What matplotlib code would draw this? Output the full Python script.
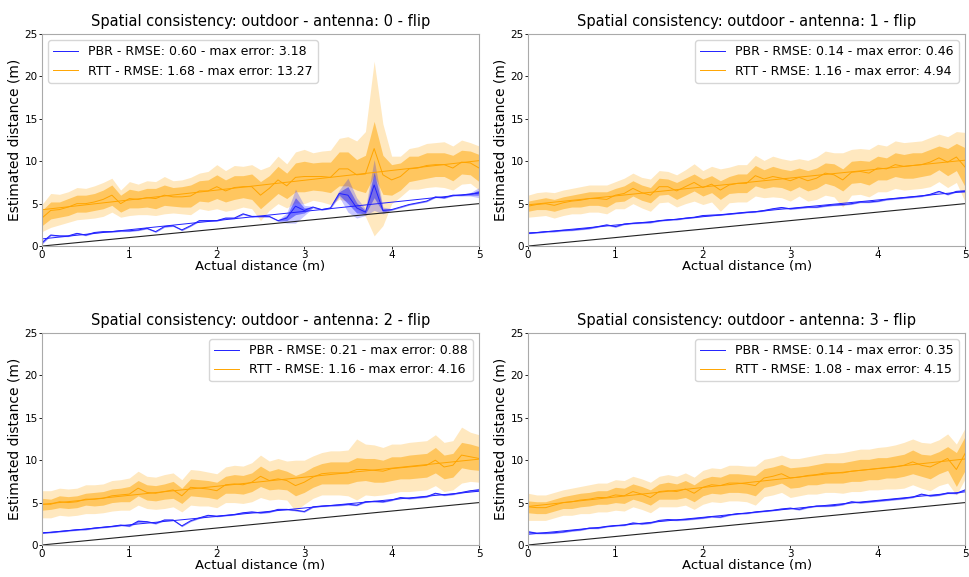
import numpy as np
import matplotlib
matplotlib.use("Agg")
import matplotlib.pyplot as plt

# Actual distance grid (m)
dist = np.round(np.arange(0, 5.01, 0.1), 1)

antennas = [0, 1, 2, 3]

# PBR estimates per antenna: mean and spread
pbr_mean_0 = [0.4, 1.3, 1.2, 1.2, 1.5, 1.3, 1.6, 1.7, 1.7, 1.8, 1.8, 1.9, 2.1, 1.7, 2.3, 2.4, 1.9, 2.4, 3.0, 3.0,
              3.0, 3.3, 3.3, 3.8, 3.5, 3.5, 3.5, 3.0, 3.3, 4.7, 4.2, 4.6, 4.3, 4.5, 6.2, 6.0, 4.5, 4.0, 7.2, 4.2,
              4.3, 4.6, 4.9, 5.1, 5.3, 5.8, 5.7, 6.0, 6.0, 6.1, 6.3]
pbr_sd_0 = [0.1, 0.05, 0.05, 0.05, 0.05, 0.05, 0.05, 0.05, 0.05, 0.05, 0.05, 0.05, 0.05, 0.05, 0.05, 0.05, 0.05,
            0.05, 0.05, 0.05, 0.05, 0.05, 0.05, 0.05, 0.05, 0.05, 0.05, 0.05, 0.3, 1.0, 0.3, 0.05, 0.05, 0.05, 0.2,
            1.0, 0.6, 0.2, 1.5, 0.2, 0.05, 0.05, 0.05, 0.05, 0.05, 0.05, 0.05, 0.05, 0.05, 0.1, 0.3]
pbr_mean_1 = [1.55, 1.6, 1.7, 1.75, 1.85, 1.9, 2.0, 2.1, 2.3, 2.5, 2.3, 2.6, 2.7, 2.75, 2.8, 3.0, 3.1, 3.15, 3.3,
              3.4, 3.6, 3.65, 3.7, 3.8, 3.9, 4.0, 4.05, 4.2, 4.4, 4.55, 4.4, 4.5, 4.6, 4.6, 4.75, 4.85, 4.9, 5.0,
              5.2, 5.2, 5.3, 5.5, 5.6, 5.7, 5.8, 5.9, 6.1, 6.45, 6.1, 6.45, 6.5]
pbr_sd_1 = [0.05, 0.05, 0.05, 0.05, 0.05, 0.05, 0.05, 0.05, 0.05, 0.05, 0.05, 0.05, 0.05, 0.05, 0.05, 0.05, 0.05,
            0.05, 0.05, 0.05, 0.05, 0.05, 0.05, 0.05, 0.05, 0.05, 0.05, 0.05, 0.05, 0.05, 0.05, 0.05, 0.05, 0.05,
            0.05, 0.05, 0.05, 0.05, 0.05, 0.05, 0.05, 0.05, 0.05, 0.05, 0.05, 0.05, 0.05, 0.05, 0.05, 0.05, 0.1]
pbr_mean_2 = [1.45, 1.5, 1.6, 1.7, 1.8, 1.85, 2.0, 2.1, 2.2, 2.35, 2.25, 2.8, 2.75, 2.55, 2.95, 2.95, 2.25, 2.85,
              3.2, 3.5, 3.4, 3.5, 3.6, 3.8, 3.9, 3.8, 3.9, 4.2, 4.2, 4.1, 3.95, 4.5, 4.6, 4.65, 4.7, 4.8, 4.7, 5.1,
              5.15, 5.1, 5.3, 5.6, 5.5, 5.6, 5.7, 6.1, 5.9, 6.0, 6.2, 6.4, 6.5]
pbr_sd_2 = [0.05, 0.05, 0.05, 0.05, 0.05, 0.05, 0.05, 0.05, 0.05, 0.05, 0.05, 0.1, 0.05, 0.05, 0.05, 0.05, 0.05,
            0.05, 0.05, 0.05, 0.05, 0.05, 0.05, 0.05, 0.05, 0.05, 0.05, 0.05, 0.05, 0.05, 0.05, 0.05, 0.05, 0.05,
            0.05, 0.05, 0.05, 0.05, 0.05, 0.05, 0.05, 0.05, 0.05, 0.05, 0.05, 0.05, 0.05, 0.05, 0.05, 0.05, 0.1]
pbr_mean_3 = [1.55, 1.4, 1.4, 1.45, 1.55, 1.7, 1.8, 2.0, 2.0, 2.2, 2.3, 2.35, 2.6, 2.5, 2.6, 2.9, 3.0, 2.95, 3.0,
              3.1, 3.2, 3.35, 3.3, 3.55, 3.7, 3.75, 3.9, 4.0, 4.1, 4.25, 4.35, 4.2, 4.45, 4.6, 4.6, 4.65, 4.8, 5.1,
              5.0, 5.1, 5.2, 5.3, 5.4, 5.5, 5.65, 6.0, 5.8, 5.9, 6.15, 6.1, 6.5]
pbr_sd_3 = [0.1, 0.05, 0.05, 0.05, 0.05, 0.05, 0.05, 0.05, 0.05, 0.05, 0.05, 0.05, 0.05, 0.05, 0.05, 0.05, 0.05,
            0.05, 0.05, 0.05, 0.05, 0.05, 0.05, 0.05, 0.05, 0.05, 0.05, 0.05, 0.05, 0.05, 0.05, 0.05, 0.05, 0.05,
            0.05, 0.05, 0.05, 0.05, 0.05, 0.05, 0.05, 0.05, 0.05, 0.05, 0.05, 0.05, 0.05, 0.05, 0.05, 0.05, 0.05]

# RTT estimates per antenna: mean, standard deviation and full spread
rtt_mean_0 = [3.3, 4.2, 4.3, 4.6, 5.0, 5.0, 5.2, 5.5, 6.0, 5.0, 5.6, 5.5, 5.7, 5.6, 6.0, 5.8, 5.8, 5.9, 6.5, 6.5,
              7.0, 6.5, 6.9, 7.0, 7.0, 6.0, 6.8, 7.8, 7.1, 8.1, 8.2, 8.2, 8.2, 8.1, 9.1, 9.1, 8.4, 8.5, 11.5, 8.4,
              7.8, 8.2, 9.1, 9.2, 9.5, 9.6, 9.6, 9.2, 9.9, 9.8, 9.2]
rtt_sd_0 = [0.9, 1.0, 0.9, 1.0, 1.0, 1.0, 1.0, 1.1, 1.2, 1.0, 1.1, 1.0, 1.1, 1.2, 1.2, 1.1, 1.2, 1.3, 1.2, 1.3,
            1.4, 1.3, 1.4, 1.3, 1.5, 1.6, 1.5, 1.6, 1.5, 1.7, 1.8, 1.6, 1.7, 1.8, 2.0, 2.0, 1.8, 2.2, 3.2, 2.3,
            1.8, 1.6, 1.5, 1.4, 1.5, 1.4, 1.4, 1.5, 1.4, 1.4, 1.6]
rtt_ext_0 = [1.6, 2.0, 1.8, 1.8, 1.9, 1.8, 1.9, 2.0, 2.0, 1.6, 2.0, 1.8, 2.0, 2.0, 2.2, 1.9, 2.0, 2.2, 2.1, 2.3,
             2.6, 2.4, 2.6, 2.4, 2.6, 3.0, 2.6, 2.8, 2.6, 3.0, 3.2, 2.8, 3.0, 3.2, 3.6, 3.8, 4.0, 5.0, 10.3, 6.0,
             2.8, 2.4, 2.4, 2.5, 2.6, 2.6, 2.7, 2.6, 2.6, 2.4, 2.6]
rtt_mean_1 = [4.7, 4.9, 5.0, 4.8, 5.1, 5.3, 5.4, 5.6, 5.6, 5.5, 6.0, 6.2, 6.8, 6.3, 6.0, 7.0, 7.0, 6.5, 7.0, 7.5,
              6.9, 7.3, 6.6, 7.2, 7.4, 7.4, 8.3, 7.9, 8.2, 8.0, 7.7, 8.1, 7.7, 8.0, 8.6, 8.4, 7.8, 8.7, 8.8, 8.6,
              9.2, 9.1, 9.6, 9.4, 9.5, 9.6, 9.9, 10.4, 9.9, 10.5, 9.3]
rtt_sd_1 = [0.6, 0.6, 0.7, 0.7, 0.7, 0.7, 0.8, 0.8, 0.8, 0.9, 0.8, 0.9, 0.9, 0.9, 0.9, 1.0, 0.9, 1.0, 1.0, 1.0,
            1.0, 1.0, 1.1, 1.0, 1.1, 1.1, 1.2, 1.1, 1.2, 1.1, 1.2, 1.1, 1.2, 1.2, 1.2, 1.3, 1.3, 1.3, 1.3, 1.4,
            1.4, 1.3, 1.4, 1.4, 1.5, 1.4, 1.5, 1.4, 1.6, 1.6, 2.3]
rtt_ext_1 = [1.3, 1.4, 1.4, 1.5, 1.5, 1.5, 1.6, 1.6, 1.6, 1.7, 1.6, 1.8, 1.8, 1.8, 1.9, 1.9, 1.8, 1.9, 2.0, 2.2,
             2.0, 2.1, 2.5, 2.1, 2.2, 2.2, 2.4, 2.2, 2.4, 2.3, 2.4, 2.2, 2.4, 2.5, 2.6, 2.6, 3.2, 2.7, 2.7, 2.8,
             2.8, 2.7, 2.8, 2.8, 2.8, 2.8, 2.9, 2.8, 3.0, 3.0, 4.1]
rtt_mean_2 = [4.8, 4.8, 5.1, 5.0, 5.1, 5.4, 5.4, 5.5, 5.8, 5.9, 6.0, 6.7, 6.2, 6.1, 6.3, 6.5, 5.8, 6.8, 6.7, 6.6,
              6.4, 7.1, 7.2, 7.1, 7.4, 8.1, 7.6, 7.8, 7.6, 7.0, 7.4, 8.0, 8.4, 8.5, 8.5, 8.5, 8.9, 8.9, 8.8, 8.7,
              9.0, 9.1, 9.2, 9.3, 9.4, 10.0, 9.2, 9.4, 10.6, 10.4, 10.2]
rtt_sd_2 = [0.7, 0.6, 0.7, 0.7, 0.7, 0.7, 0.8, 0.8, 0.8, 0.8, 0.9, 0.9, 0.9, 0.9, 0.9, 1.0, 0.9, 1.0, 1.0, 1.0,
            1.0, 1.0, 1.1, 1.1, 1.1, 1.2, 1.1, 1.2, 1.1, 1.2, 1.2, 1.2, 1.2, 1.3, 1.3, 1.3, 1.4, 1.3, 1.4, 1.3,
            1.4, 1.3, 1.4, 1.4, 1.4, 1.5, 1.4, 1.4, 1.5, 1.5, 1.4]
rtt_ext_2 = [1.6, 1.6, 1.6, 1.6, 1.6, 1.7, 1.7, 1.7, 1.8, 1.8, 1.9, 2.0, 1.9, 1.9, 2.0, 2.0, 1.9, 2.1, 2.1, 2.0,
             2.0, 2.1, 2.2, 2.2, 2.3, 2.5, 2.3, 2.4, 2.3, 3.0, 2.6, 2.5, 2.5, 2.6, 2.6, 2.7, 3.6, 3.0, 3.0, 2.8,
             2.9, 2.8, 2.9, 2.9, 2.9, 3.0, 2.9, 2.9, 3.3, 2.9, 2.8]
rtt_mean_3 = [4.5, 4.4, 4.4, 4.7, 5.0, 5.1, 5.3, 5.4, 5.6, 5.6, 5.9, 5.8, 6.3, 6.0, 5.6, 6.3, 6.4, 6.3, 6.6, 6.1,
              6.8, 7.1, 7.0, 7.3, 7.3, 7.2, 7.0, 7.9, 8.1, 8.4, 7.9, 8.0, 8.2, 8.3, 8.5, 8.5, 8.5, 8.7, 8.8, 8.9,
              9.0, 9.1, 9.2, 9.4, 9.8, 9.4, 9.2, 9.7, 10.2, 8.9, 10.8]
rtt_sd_3 = [0.7, 0.7, 0.7, 0.7, 0.7, 0.8, 0.8, 0.8, 0.8, 0.8, 0.9, 0.9, 0.9, 0.9, 0.9, 0.9, 1.0, 0.9, 1.0, 1.0,
            1.0, 1.0, 1.0, 1.1, 1.1, 1.1, 1.2, 1.1, 1.1, 1.1, 1.2, 1.2, 1.1, 1.2, 1.2, 1.2, 1.2, 1.2, 1.3, 1.2,
            1.3, 1.2, 1.3, 1.3, 1.4, 1.3, 1.4, 1.3, 1.4, 2.0, 2.0]
rtt_ext_3 = [1.6, 1.5, 1.5, 1.5, 1.5, 1.6, 1.6, 1.7, 1.7, 1.7, 1.8, 1.8, 1.8, 1.8, 1.8, 1.8, 1.9, 1.8, 1.9, 1.9,
             2.0, 2.0, 2.0, 2.1, 2.1, 2.1, 2.3, 2.2, 2.2, 2.2, 2.3, 2.2, 2.2, 2.3, 2.3, 2.3, 2.4, 2.4, 2.5, 2.4,
             2.5, 2.5, 2.6, 2.7, 2.7, 2.7, 2.8, 2.7, 2.9, 3.0, 3.0]

# error summaries shown in the legends
pbr_rmse = ["0.60", "0.14", "0.21", "0.14"]
pbr_maxerr = ["3.18", "0.46", "0.88", "0.35"]
rtt_rmse = ["1.68", "1.16", "1.16", "1.08"]
rtt_maxerr = ["13.27", "4.94", "4.16", "4.15"]
legend_loc = ["upper left", "upper right", "upper right", "upper right"]

pbr_means = [pbr_mean_0, pbr_mean_1, pbr_mean_2, pbr_mean_3]
pbr_sds = [pbr_sd_0, pbr_sd_1, pbr_sd_2, pbr_sd_3]
rtt_means = [rtt_mean_0, rtt_mean_1, rtt_mean_2, rtt_mean_3]
rtt_sds = [rtt_sd_0, rtt_sd_1, rtt_sd_2, rtt_sd_3]
rtt_exts = [rtt_ext_0, rtt_ext_1, rtt_ext_2, rtt_ext_3]

PBR_C = "#2020ff"
RTT_C = "orange"

fig, axes = plt.subplots(2, 2, figsize=(9.69, 5.77), dpi=100)
fig.subplots_adjust(left=0.0433, right=0.996, bottom=0.0555, top=0.941, wspace=0.112, hspace=0.41)

for k, ax in enumerate(axes.flat):
    rm = np.array(rtt_means[k])
    rs = np.array(rtt_sds[k])
    re = np.array(rtt_exts[k])
    pm = np.array(pbr_means[k])
    ps = np.array(pbr_sds[k])

    # RTT: spread and std bands, mean and linear fit
    ax.fill_between(dist, rm - re, rm + re, color=RTT_C, alpha=0.25, lw=0)
    ax.fill_between(dist, rm - rs, rm + rs, color=RTT_C, alpha=0.5, lw=0)
    rtt_line, = ax.plot(dist, rm, color=RTT_C, lw=0.7)
    a, b = np.polyfit(dist, rm, 1)
    ax.plot(dist, a * dist + b, color=RTT_C, lw=0.7)

    # PBR: same treatment
    ax.fill_between(dist, pm - 2 * ps, pm + 2 * ps, color=PBR_C, alpha=0.25, lw=0)
    ax.fill_between(dist, pm - ps, pm + ps, color=PBR_C, alpha=0.5, lw=0)
    pbr_line, = ax.plot(dist, pm, color=PBR_C, lw=0.7)
    a, b = np.polyfit(dist, pm, 1)
    ax.plot(dist, a * dist + b, color=PBR_C, lw=0.7)

    # ground truth
    ax.plot(dist, dist, color="#222222", lw=0.8)

    ax.set_xlim(0, 5)
    ax.set_ylim(0, 25)
    ax.set_title(f"Spatial consistency: outdoor - antenna: {antennas[k]} - flip", fontsize=10.5)
    ax.set_xlabel("Actual distance (m)", fontsize=9.5, labelpad=0)
    ax.set_ylabel("Estimated distance (m)", fontsize=10, labelpad=2)
    ax.tick_params(labelsize=7.5, length=2, width=0.6, pad=1)
    for s in ax.spines.values():
        s.set_color("#aaaaaa")
    ax.legend([pbr_line, rtt_line],
              [f"PBR - RMSE: {pbr_rmse[k]} - max error: {pbr_maxerr[k]}",
               f"RTT - RMSE: {rtt_rmse[k]} - max error: {rtt_maxerr[k]}"],
              loc=legend_loc[k], fontsize=9)

fig.savefig("out.png", dpi=100)
